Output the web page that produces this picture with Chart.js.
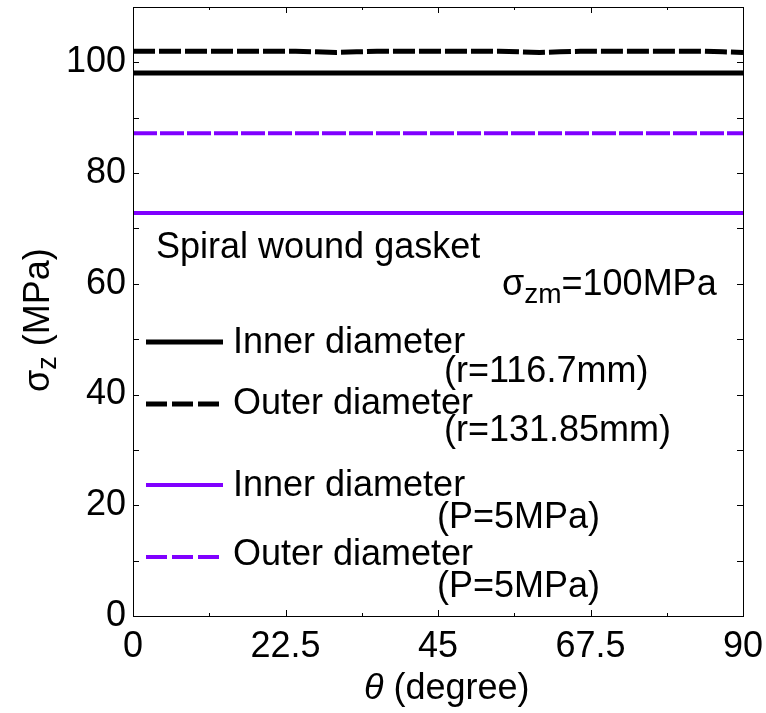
<!DOCTYPE html>
<html>
<head>
<meta charset="utf-8">
<script src="https://cdn.jsdelivr.net/npm/chart.js@4/dist/chart.umd.min.js"></script>
<style>
  html, body { margin: 0; padding: 0; background: #fff; }
  #wrap { width: 766px; height: 713px; }
</style>
</head>
<body>
<div id="wrap"><canvas id="chart" width="766" height="713"></canvas></div>
<script>
// angle around the gasket (degree)
const theta = [0, 3, 6, 9, 12, 15, 18, 21, 24, 27, 30, 33, 36, 39, 42, 45, 48, 51, 54, 57, 60, 63, 66, 69, 72, 75, 78, 81, 84, 87, 90];

// sigma_z (MPa)
const innerR = [98.1, 98.1, 98.1, 98.1, 98.1, 98.1, 98.1, 98.1, 98.1, 98.1, 98.1, 98.1, 98.1, 98.1, 98.1, 98.1,
  98.1, 98.1, 98.1, 98.1, 98.1, 98.1, 98.1, 98.1, 98.1, 98.1, 98.1, 98.1, 98.1, 98.1, 98.1];
const outerR = [102.0, 102.0, 102.0, 102.0, 102.0, 102.0, 102.0, 102.0, 102.0, 101.9, 101.8, 101.9, 102.0, 102.0, 102.0, 102.0,
  102.0, 102.0, 102.0, 101.9, 101.8, 101.9, 102.0, 102.0, 102.0, 102.0, 102.0, 102.0, 102.0, 101.9, 101.8];
const innerP = [72.8, 72.8, 72.8, 72.8, 72.8, 72.8, 72.8, 72.8, 72.8, 72.8, 72.8, 72.8, 72.8, 72.8, 72.8, 72.8,
  72.8, 72.8, 72.8, 72.8, 72.8, 72.8, 72.8, 72.8, 72.8, 72.8, 72.8, 72.8, 72.8, 72.8, 72.8];
const outerP = [87.2, 87.2, 87.2, 87.2, 87.2, 87.2, 87.2, 87.2, 87.2, 87.2, 87.2, 87.2, 87.2, 87.2, 87.2, 87.2,
  87.2, 87.2, 87.2, 87.2, 87.2, 87.2, 87.2, 87.2, 87.2, 87.2, 87.2, 87.2, 87.2, 87.2, 87.2];

const xTicks = [0, 22.5, 45, 67.5, 90];
const xMinorTicks = [11.25, 33.75, 56.25, 78.75];
const yTicks = [0, 20, 40, 60, 80, 100];
const yMinorTicks = [10, 30, 50, 70, 90, 110];

const seriesNames = ['Inner diameter', 'Outer diameter', 'Inner diameter', 'Outer diameter'];
const seriesNotes = ['(r=116.7mm)', '(r=131.85mm)', '(P=5MPa)', '(P=5MPa)'];
const caseTitle = 'Spiral wound gasket';
const meanStress = '=100MPa';

const BLACK = '#000000';
const PURPLE = '#8000ff';
const FONT = "'Liberation Sans', Arial, sans-serif";

function pts(ys) {
  return theta.map((t, i) => ({ x: t, y: ys[i] }));
}

// legend rows: line y, name baseline, note x, note baseline
const legendRows = [
  { line: 342, base: 353, noteX: 444, noteBase: 382 },
  { line: 404, base: 414, noteX: 444, noteBase: 441 },
  { line: 485, base: 496, noteX: 437, noteBase: 528 },
  { line: 557, base: 565, noteX: 437, noteBase: 597 }
];

const frameTicks = {
  id: 'frameTicks',
  afterDraw(chart) {
    const ctx = chart.ctx;
    const a = chart.chartArea;
    const xs = chart.scales.x, ys = chart.scales.y;
    ctx.save();
    ctx.strokeStyle = BLACK;
    ctx.lineWidth = 1;
    ctx.strokeRect(a.left + 0.5, a.top + 0.5, a.right - a.left, a.bottom - a.top);
    ctx.beginPath();
    const xMark = (v, len) => {
      const px = Math.round(xs.getPixelForValue(v)) + 0.5;
      ctx.moveTo(px, a.bottom); ctx.lineTo(px, a.bottom - len);
      ctx.moveTo(px, a.top); ctx.lineTo(px, a.top + len);
    };
    const yMark = (v, len) => {
      const py = Math.round(ys.getPixelForValue(v)) + 0.5;
      ctx.moveTo(a.left, py); ctx.lineTo(a.left + len, py);
      ctx.moveTo(a.right, py); ctx.lineTo(a.right - len, py);
    };
    xTicks.forEach(v => xMark(v, 6));
    xMinorTicks.forEach(v => xMark(v, 3));
    yTicks.forEach(v => yMark(v, 6));
    yMinorTicks.forEach(v => yMark(v, 6));
    ctx.stroke();

    // titles
    ctx.fillStyle = BLACK;
    ctx.textBaseline = 'alphabetic';
    ctx.textAlign = 'left';
    ctx.font = 'italic 36px ' + FONT;
    ctx.fillText('θ', 364, 699);
    let w = ctx.measureText('θ').width;
    ctx.font = '36px ' + FONT;
    ctx.fillText(' (degree)', 364 + w, 699);

    ctx.save();
    ctx.translate(49, 392);
    ctx.rotate(-Math.PI / 2);
    ctx.font = '36px ' + FONT;
    ctx.fillText('σ', 0, 0);
    let x = ctx.measureText('σ').width;
    ctx.font = '27px ' + FONT;
    ctx.fillText('z', x, 7);
    x += ctx.measureText('z').width;
    ctx.font = '36px ' + FONT;
    ctx.fillText(' (MPa)', x, 0);
    ctx.restore();

    // annotations
    ctx.font = '36px ' + FONT;
    ctx.fillText(caseTitle, 156, 258);
    ctx.fillText('σ', 502, 295);
    x = 502 + ctx.measureText('σ').width;
    ctx.font = '28px ' + FONT;
    ctx.fillText('zm', x, 303);
    x += ctx.measureText('zm').width;
    ctx.font = '36px ' + FONT;
    ctx.fillText(meanStress, x, 295);

    // legend
    chart.data.datasets.forEach((ds, i) => {
      const r = legendRows[i];
      ctx.beginPath();
      ctx.strokeStyle = ds.borderColor;
      ctx.lineWidth = ds.borderWidth;
      ctx.setLineDash(ds.borderDash.length ? [21, 5] : []);
      ctx.moveTo(146, r.line);
      ctx.lineTo(223, r.line);
      ctx.stroke();
      ctx.setLineDash([]);
      ctx.fillStyle = BLACK;
      ctx.font = '36px ' + FONT;
      ctx.fillText(seriesNames[i], 233, r.base);
      ctx.fillText(seriesNotes[i], r.noteX, r.noteBase);
    });
    ctx.restore();
  }
};

function noPad(s) {
  s.paddingTop = 0;
  s.paddingBottom = 0;
  s.paddingLeft = 0;
  s.paddingRight = 0;
}

new Chart(document.getElementById('chart'), {
  type: 'line',
  data: {
    datasets: [
      { label: seriesNames[0], data: pts(innerR), borderColor: BLACK, borderWidth: 5, borderDash: [] },
      { label: seriesNames[1], data: pts(outerR), borderColor: BLACK, borderWidth: 5, borderDash: [22, 4] },
      { label: seriesNames[2], data: pts(innerP), borderColor: PURPLE, borderWidth: 4, borderDash: [] },
      { label: seriesNames[3], data: pts(outerP), borderColor: PURPLE, borderWidth: 4, borderDash: [24, 3] }
    ]
  },
  options: {
    responsive: false,
    animation: false,
    devicePixelRatio: 1,
    layout: { padding: { top: 7, right: 23, left: 0, bottom: 0 } },
    elements: { point: { radius: 0 }, line: { tension: 0, borderCapStyle: 'butt' } },
    plugins: { legend: { display: false }, tooltip: { enabled: false } },
    scales: {
      x: {
        type: 'linear',
        min: 0,
        max: 90,
        afterBuildTicks: s => { s.ticks = xTicks.map(v => ({ value: v })); },
        afterFit: s => { s.height = 97; noPad(s); },
        grid: { display: false, drawTicks: false },
        border: { display: false },
        ticks: { color: BLACK, font: { family: FONT, size: 36 }, padding: 9, maxRotation: 0, autoSkip: false,
          callback: v => String(v) }
      },
      y: {
        min: 0,
        max: 110,
        afterBuildTicks: s => { s.ticks = yTicks.map(v => ({ value: v })); },
        afterFit: s => { s.width = 133; noPad(s); },
        grid: { display: false, drawTicks: false },
        border: { display: false },
        ticks: { color: BLACK, font: { family: FONT, size: 36 }, padding: 7, callback: v => String(v) }
      }
    }
  },
  plugins: [frameTicks]
});
</script>
</body>
</html>
